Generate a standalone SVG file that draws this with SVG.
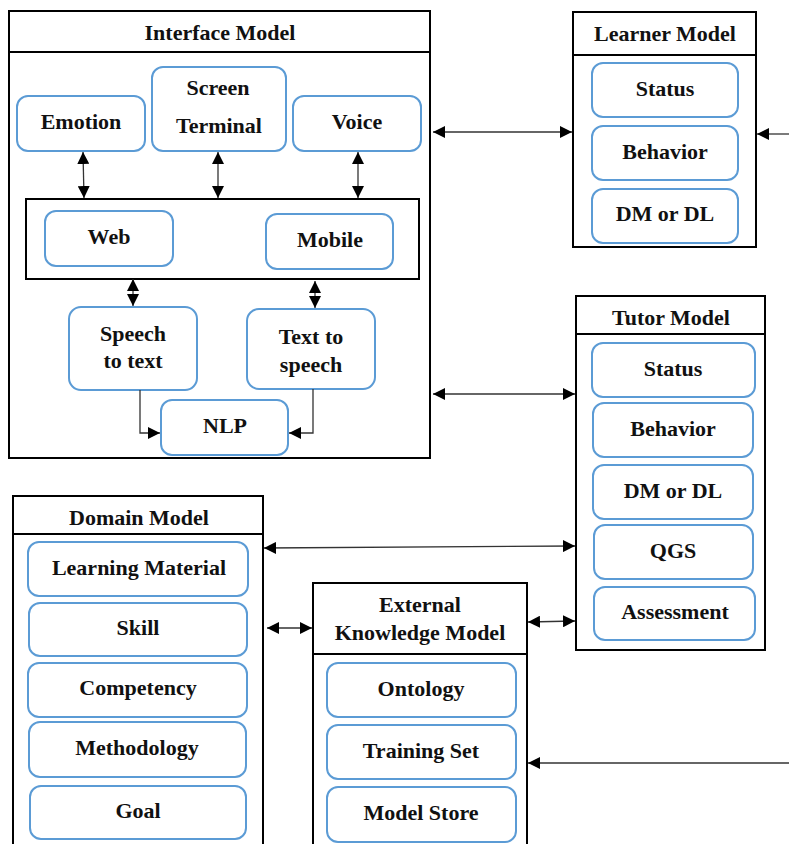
<svg xmlns="http://www.w3.org/2000/svg" width="789" height="844" viewBox="0 0 789 844">
<defs>
<marker id="ah" markerUnits="userSpaceOnUse" markerWidth="12" markerHeight="12" viewBox="0 0 12 12" refX="12" refY="6" orient="auto-start-reverse">
<path d="M0,0 L12,6 L0,12 z" fill="#000"/>
</marker>
<style>
.box{fill:#fff;stroke:#000;stroke-width:2}
.item{fill:#fff;stroke:#5b9bd5;stroke-width:2}
.t{font-family:"Liberation Serif","Times New Roman",serif;font-weight:bold;font-size:22px;fill:#111;text-anchor:middle}
.c{fill:none;stroke:#333;stroke-width:1.3}
.d{marker-start:url(#ah);marker-end:url(#ah)}
.e{marker-end:url(#ah)}
</style>
</defs>
<rect width="789" height="844" fill="#fff"/>

<g id="interface-model">
<rect class="box" x="9" y="11" width="421" height="447"/>
<line x1="9" y1="52" x2="430" y2="52" stroke="#000" stroke-width="2"/>
<text class="t" x="220" y="40">Interface Model</text>
<rect class="box" x="26" y="199" width="393" height="80"/>
</g>
<g id="emotion"><rect class="item" x="17" y="96" width="128" height="55" rx="11"/><text class="t" x="81" y="129">Emotion</text></g>
<g id="screen-terminal"><rect class="item" x="152" y="67" width="134" height="84" rx="11"/><text class="t" x="218" y="95">Screen</text><text class="t" x="219" y="133">Terminal</text></g>
<g id="voice"><rect class="item" x="293" y="96" width="128" height="55" rx="11"/><text class="t" x="357" y="129">Voice</text></g>
<g id="web"><rect class="item" x="45" y="211" width="128" height="55" rx="11"/><text class="t" x="109" y="244">Web</text></g>
<g id="mobile"><rect class="item" x="266" y="214" width="127" height="55" rx="11"/><text class="t" x="330" y="247">Mobile</text></g>
<g id="speech-to-text"><rect class="item" x="69" y="307" width="128" height="83" rx="12"/><text class="t" x="133" y="341">Speech</text><text class="t" x="133" y="368">to text</text></g>
<g id="text-to-speech"><rect class="item" x="247" y="309" width="128" height="80" rx="12"/><text class="t" x="311" y="344">Text to</text><text class="t" x="311" y="372">speech</text></g>
<g id="nlp"><rect class="item" x="161" y="400" width="127" height="55" rx="11"/><text class="t" x="225" y="433">NLP</text></g>

<g id="learner-model">
<rect class="box" x="573" y="12" width="183" height="235"/>
<line x1="573" y1="55" x2="756" y2="55" stroke="#000" stroke-width="2"/>
<text class="t" x="665" y="41">Learner Model</text>
</g>
<g id="learner-status"><rect class="item" x="592" y="63" width="146" height="54" rx="11"/><text class="t" x="665" y="96">Status</text></g>
<g id="learner-behavior"><rect class="item" x="592" y="126" width="146" height="54" rx="11"/><text class="t" x="665" y="159">Behavior</text></g>
<g id="learner-dmdl"><rect class="item" x="592" y="189" width="146" height="54" rx="11"/><text class="t" x="665" y="221">DM or DL</text></g>

<g id="tutor-model">
<rect class="box" x="576" y="296" width="189" height="354"/>
<line x1="576" y1="334" x2="765" y2="334" stroke="#000" stroke-width="2"/>
<text class="t" x="671" y="325">Tutor Model</text>
</g>
<g id="tutor-status"><rect class="item" x="592" y="343" width="163" height="54" rx="11"/><text class="t" x="673" y="376">Status</text></g>
<g id="tutor-behavior"><rect class="item" x="593" y="403" width="160" height="54" rx="11"/><text class="t" x="673" y="436">Behavior</text></g>
<g id="tutor-dmdl"><rect class="item" x="593" y="465" width="160" height="54" rx="11"/><text class="t" x="673" y="498">DM or DL</text></g>
<g id="tutor-qgs"><rect class="item" x="594" y="525" width="159" height="54" rx="11"/><text class="t" x="673" y="558">QGS</text></g>
<g id="tutor-assessment"><rect class="item" x="594" y="587" width="161" height="53" rx="11"/><text class="t" x="675" y="619">Assessment</text></g>

<g id="domain-model">
<rect class="box" x="13" y="496" width="250" height="360"/>
<line x1="13" y1="534" x2="263" y2="534" stroke="#000" stroke-width="2"/>
<text class="t" x="139" y="525">Domain Model</text>
</g>
<g id="learning-material"><rect class="item" x="28" y="542" width="220" height="54" rx="11"/><text class="t" x="139" y="575">Learning Material</text></g>
<g id="skill"><rect class="item" x="29" y="603" width="218" height="53" rx="11"/><text class="t" x="138" y="635">Skill</text></g>
<g id="competency"><rect class="item" x="28" y="663" width="219" height="54" rx="11"/><text class="t" x="138" y="695">Competency</text></g>
<g id="methodology"><rect class="item" x="29" y="722" width="217" height="55" rx="11"/><text class="t" x="137" y="755">Methodology</text></g>
<g id="goal"><rect class="item" x="30" y="786" width="216" height="53" rx="11"/><text class="t" x="138" y="818">Goal</text></g>

<g id="external-knowledge-model">
<rect class="box" x="313" y="583" width="214" height="280"/>
<line x1="313" y1="654" x2="527" y2="654" stroke="#000" stroke-width="2"/>
<text class="t" x="420" y="612">External</text>
<text class="t" x="420" y="640">Knowledge Model</text>
</g>
<g id="ontology"><rect class="item" x="327" y="663" width="189" height="54" rx="11"/><text class="t" x="421" y="696">Ontology</text></g>
<g id="training-set"><rect class="item" x="327" y="725" width="189" height="54" rx="11"/><text class="t" x="421" y="758">Training Set</text></g>
<g id="model-store"><rect class="item" x="327" y="787" width="189" height="55" rx="11"/><text class="t" x="421" y="820">Model Store</text></g>

<g id="connectors">
<line class="c d" x1="83" y1="152" x2="84" y2="198"/>
<line class="c d" x1="218" y1="152" x2="218" y2="198"/>
<line class="c d" x1="358" y1="152" x2="358" y2="198"/>
<line class="c d" x1="133" y1="279" x2="133" y2="306"/>
<line class="c d" x1="315" y1="281" x2="315" y2="308"/>
<polyline class="c e" points="140,390 140,433 160,433"/>
<polyline class="c e" points="313,389 313,433 289,433"/>
<line class="c d" x1="433" y1="132" x2="572" y2="132"/>
<line class="c e" x1="789" y1="134" x2="757" y2="134"/>
<line class="c d" x1="433" y1="394" x2="575" y2="394"/>
<line class="c d" x1="264" y1="548" x2="575" y2="546"/>
<line class="c d" x1="267" y1="628" x2="312" y2="628"/>
<line class="c d" x1="528" y1="622" x2="575" y2="621"/>
<line class="c e" x1="789" y1="763" x2="528" y2="763"/>
</g>
</svg>
